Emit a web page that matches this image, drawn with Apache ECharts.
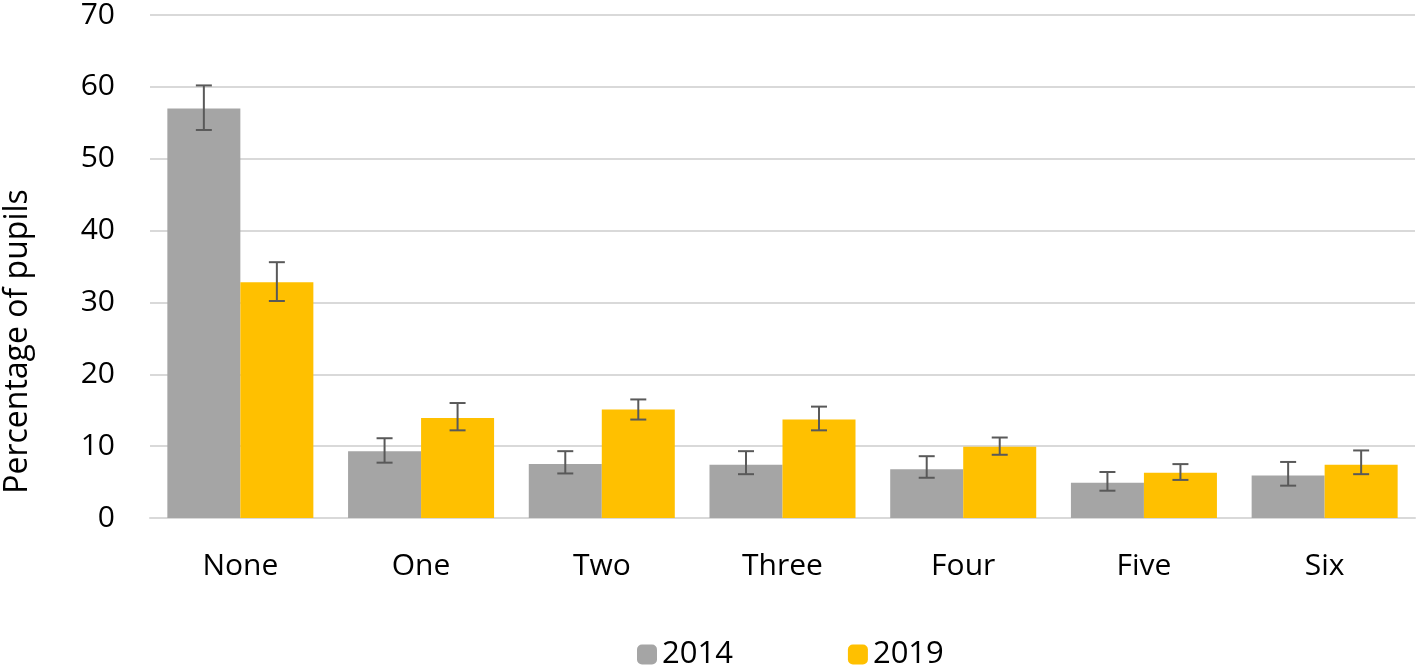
<!DOCTYPE html>
<html>
<head>
<meta charset="utf-8">
<script src="https://cdn.jsdelivr.net/npm/echarts@6/dist/echarts.min.js"></script>
<style>
html,body{margin:0;padding:0;background:#fff;}
#c{width:1418px;height:666px;}
</style>
</head>
<body>
<div id="c"></div>
<script>
const categories = ['None', 'One', 'Two', 'Three', 'Four', 'Five', 'Six'];
const seriesNames = ['2014', '2019'];
const values2014 = [57.0, 9.3, 7.5, 7.4, 6.8, 4.9, 5.9];
const values2019 = [32.8, 13.9, 15.1, 13.7, 9.9, 6.3, 7.4];
const low2014  = [54.0, 7.7, 6.2, 6.1, 5.6, 3.8, 4.5];
const high2014 = [60.2, 11.1, 9.3, 9.3, 8.6, 6.4, 7.8];
const low2019  = [30.2, 12.2, 13.7, 12.2, 8.8, 5.3, 6.1];
const high2019 = [35.6, 16.0, 16.5, 15.5, 11.2, 7.5, 9.4];
const yTicks = [0, 10, 20, 30, 40, 50, 60, 70];

const FONT = 'Open Sans';
const BAR_FRAC = 0.404;

function errData(lo, hi) {
  return categories.map((c, i) => [i, lo[i], hi[i]]);
}
function errSeries(lo, hi, side) {
  return {
    type: 'custom',
    silent: true,
    z: 10,
    data: errData(lo, hi),
    encode: { x: 0, y: [1, 2] },
    renderItem: function (params, api) {
      const idx = api.value(0);
      const pLo = api.coord([idx, api.value(1)]);
      const pHi = api.coord([idx, api.value(2)]);
      const bw = api.size([1, 0])[0] * BAR_FRAC;
      const x = pLo[0] + side * bw / 2;
      const cap = 8;
      const style = { stroke: '#595959', lineWidth: 2 };
      return {
        type: 'group',
        children: [
          { type: 'line', shape: { x1: x, y1: pLo[1], x2: x, y2: pHi[1] }, style: style },
          { type: 'line', shape: { x1: x - cap, y1: pLo[1], x2: x + cap, y2: pLo[1] }, style: style },
          { type: 'line', shape: { x1: x - cap, y1: pHi[1], x2: x + cap, y2: pHi[1] }, style: style }
        ]
      };
    }
  };
}

const chart = echarts.init(document.getElementById('c'), null, { renderer: 'canvas' });
chart.setOption({
  animation: false,
  textStyle: { fontFamily: FONT },
  grid: { left: 150, right: 3, top: 15, bottom: 148, containLabel: false, outerBoundsMode: 'none' },
  legend: {
    top: 634,
    left: 632,
    itemWidth: 20,
    itemHeight: 20,
    itemGap: 115,
    data: seriesNames,
    textStyle: { fontSize: 31, color: '#000', fontFamily: FONT }
  },
  xAxis: {
    type: 'category',
    data: categories,
    axisLine: { show: true, lineStyle: { color: '#d9d9d9', width: 2 } },
    axisTick: { show: false },
    axisLabel: { fontSize: 30, color: '#000', margin: 33, fontFamily: FONT }
  },
  yAxis: {
    type: 'value',
    min: 0,
    max: 70,
    interval: 10,
    name: 'Percentage of pupils',
    nameLocation: 'middle',
    nameGap: 116,
    nameTextStyle: { fontSize: 32, color: '#000', fontFamily: FONT, padding: [0, 150, 0, 0] },
    axisLine: { show: false },
    axisTick: { show: false },
    axisLabel: { fontSize: 30, color: '#000', margin: 35, fontFamily: FONT,
      formatter: function (v) { return yTicks.indexOf(v) >= 0 ? String(v) : ''; } },
    splitLine: { lineStyle: { color: '#d9d9d9', width: 2 } }
  },
  series: [
    { name: seriesNames[0], type: 'bar', data: values2014, barWidth: (BAR_FRAC * 100) + '%', barGap: '0%',
      itemStyle: { color: '#a5a5a5' } },
    { name: seriesNames[1], type: 'bar', data: values2019, barWidth: (BAR_FRAC * 100) + '%', barGap: '0%',
      itemStyle: { color: '#ffc000' } },
    errSeries(low2014, high2014, -1),
    errSeries(low2019, high2019, 1)
  ]
});
</script>
</body>
</html>
